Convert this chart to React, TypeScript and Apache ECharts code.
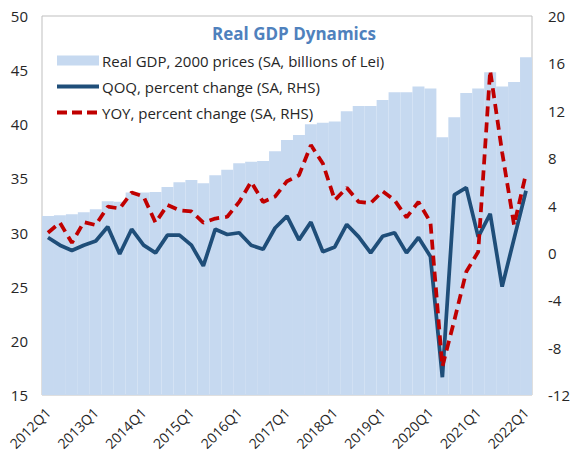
import React, { useEffect, useRef } from "react";
import * as echarts from "echarts";

const quarters = [
  "2012Q1","2012Q2","2012Q3","2012Q4",
  "2013Q1","2013Q2","2013Q3","2013Q4",
  "2014Q1","2014Q2","2014Q3","2014Q4",
  "2015Q1","2015Q2","2015Q3","2015Q4",
  "2016Q1","2016Q2","2016Q3","2016Q4",
  "2017Q1","2017Q2","2017Q3","2017Q4",
  "2018Q1","2018Q2","2018Q3","2018Q4",
  "2019Q1","2019Q2","2019Q3","2019Q4",
  "2020Q1","2020Q2","2020Q3","2020Q4",
  "2021Q1","2021Q2","2021Q3","2021Q4",
  "2022Q1",
];

// Real GDP, 2000 prices (SA, billions of Lei) - left axis
const realGdp = [
  31.53, 31.6, 31.7, 31.87, 32.15, 32.9, 32.85, 33.7, 33.7, 33.75,
  34.2, 34.65, 34.85, 34.55, 35.3, 35.8, 36.4, 36.55, 36.6, 37.5,
  38.55, 39.0, 40.0, 40.15, 40.25, 41.2, 41.7, 41.7, 42.25, 42.95,
  42.95, 43.5, 43.3, 38.8, 40.65, 42.9, 43.3, 44.8, 43.5, 43.9,
  46.2,
];

// QOQ, percent change (SA, RHS)
const qoq = [
  1.3, 0.65, 0.2, 0.65, 1.0, 2.2, -0.1, 2.0, 0.65, 0.0,
  1.5, 1.5, 0.65, -1.1, 2.0, 1.55, 1.7, 0.65, 0.3, 2.1,
  3.1, 1.1, 2.6, 0.1, 0.5, 2.4, 1.35, 0.0, 1.4, 1.7,
  0.0, 1.3, -0.3, -10.5, 4.9, 5.5, 1.35, 3.3, -2.85, 1.2,
  5.25,
];

// YOY, percent change (SA, RHS)
const yoy = [
  1.7, 2.55, 0.85, 2.6, 2.35, 3.9, 3.75, 5.1, 4.75, 2.55,
  4.05, 3.6, 3.5, 2.55, 2.9, 3.05, 4.3, 6.0, 4.3, 4.75,
  6.05, 6.55, 9.1, 7.55, 4.45, 5.5, 4.3, 4.2, 5.2, 4.45,
  3.0, 4.3, 2.6, -9.6, -5.7, -1.6, 0.1, 15.4, 8.5, 2.35,
  6.7,
];

const seriesNames = [
  "Real GDP, 2000 prices (SA, billions of Lei)",
  "QOQ, percent change (SA, RHS)",
  "YOY, percent change (SA, RHS)",
];

const FONT = "Open Sans";

export default function App() {
  const ref = useRef<HTMLDivElement>(null);

  useEffect(() => {
    document.body.style.margin = "0";
    if (!ref.current) return;
    const chart = echarts.init(ref.current, null, { renderer: "svg" });
    chart.setOption({
      animation: false,
      backgroundColor: "#ffffff",
      textStyle: { fontFamily: FONT },
      title: {
        text: "Real GDP Dynamics",
        left: 289,
        textAlign: "center",
        top: 20,
        textStyle: {
          fontFamily: FONT,
          fontSize: 17,
          fontWeight: "bold",
          color: "#4f81bd",
        },
      },
      legend: {
        orient: "vertical",
        left: 55,
        top: 53,
        padding: 0,
        itemWidth: 42,
        itemHeight: 10,
        itemGap: 11,
        textStyle: { fontFamily: FONT, fontSize: 15, color: "#262626", padding: [0, 0, 0, -2] },
        data: [
          { name: seriesNames[0], icon: "rect" },
          {
            name: seriesNames[1],
            itemStyle: { opacity: 0 },
            lineStyle: { width: 4, color: "#1f4e79" },
          },
          {
            name: seriesNames[2],
            itemStyle: { opacity: 0 },
            lineStyle: { width: 4, color: "#c00000", type: [10, 5] },
          },
        ],
      },
      grid: {
        left: 42,
        right: 41,
        top: 16,
        bottom: 64,
        show: true,
        borderColor: "#bfbfbf",
        borderWidth: 1,
        backgroundColor: "transparent",
      },
      xAxis: {
        type: "category",
        data: quarters,
        boundaryGap: true,
        axisLine: { show: false },
        axisTick: { show: false },
        axisLabel: {
          interval: 3,
          rotate: 45,
          fontFamily: FONT,
          fontSize: 14,
          color: "#262626",
          margin: 15,
        },
      },
      yAxis: [
        {
          type: "value",
          min: 15,
          max: 50,
          interval: 5,
          axisLine: { show: false },
          axisTick: { show: false },
          splitLine: { show: false },
          axisLabel: { fontFamily: FONT, fontSize: 15, color: "#262626", margin: 14 },
        },
        {
          type: "value",
          min: -12,
          max: 20,
          interval: 4,
          axisLine: { show: false },
          axisTick: { show: false },
          splitLine: { show: false },
          axisLabel: { fontFamily: FONT, fontSize: 15, color: "#262626", margin: 16 },
        },
      ],
      series: [
        {
          name: seriesNames[0],
          type: "bar",
          yAxisIndex: 0,
          data: realGdp,
          barCategoryGap: "0%",
          itemStyle: { color: "#c6d9f0" },
          z: 1,
        },
        {
          name: seriesNames[1],
          type: "line",
          yAxisIndex: 1,
          data: qoq,
          symbol: "none",
          lineStyle: { color: "#1f4e79", width: 3.75 },
          itemStyle: { color: "#1f4e79" },
          z: 3,
        },
        {
          name: seriesNames[2],
          type: "line",
          yAxisIndex: 1,
          data: yoy,
          symbol: "none",
          lineStyle: { color: "#c00000", width: 3.75, type: [10, 6] },
          itemStyle: { color: "#c00000" },
          z: 4,
        },
      ],
    });
    return () => chart.dispose();
  }, []);

  return (
    <div
      ref={ref}
      style={{ position: "absolute", left: 0, top: 0, width: 573, height: 459 }}
    />
  );
}
